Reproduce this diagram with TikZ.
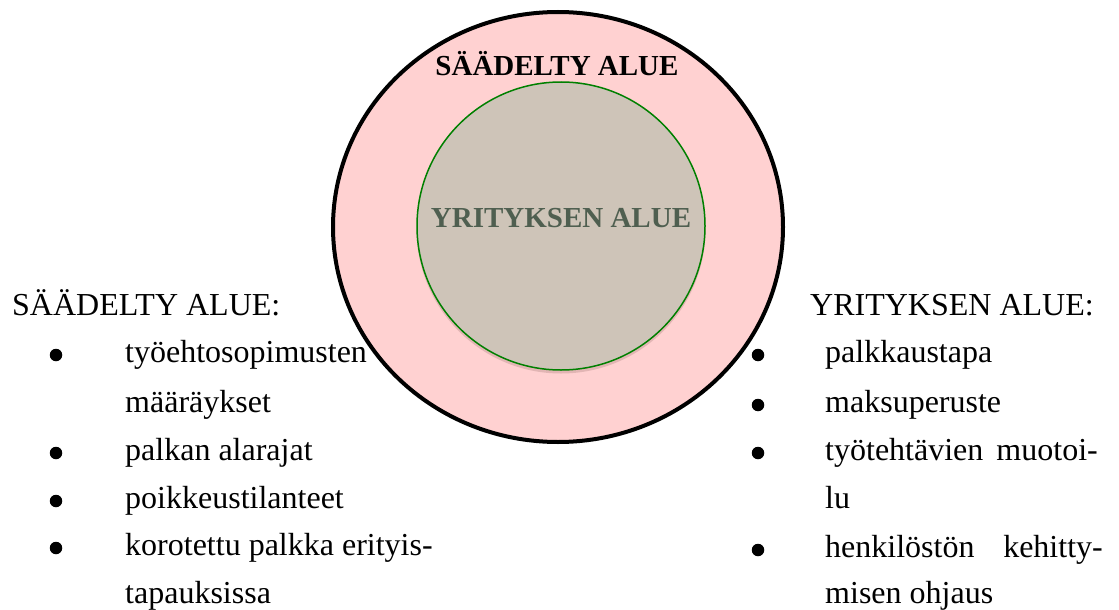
\documentclass[tikz,border=0pt]{standalone}
\usepackage{fontspec}
\setmainfont{Liberation Serif}
\usetikzlibrary{shapes.geometric}
\definecolor{outerpink}{RGB}{255,209,209}
\definecolor{innerbeige}{RGB}{206,196,184}
\definecolor{innerline}{RGB}{0,128,0}
\definecolor{innertext}{RGB}{79,95,80}
\definecolor{innershadow}{RGB}{214,170,168}
\tikzset{
  listtext/.style={anchor=base west, inner sep=0pt, font=\fontsize{32}{40}\selectfont},
  listhead/.style={listtext},
  bulletdot/.style={circle, fill=black, inner sep=0pt, minimum size=12.5pt},
  areatitle/.style={anchor=base, inner sep=0pt, font=\fontsize{29}{34}\selectfont\bfseries},
}
\begin{document}
\begin{tikzpicture}[x=1pt,y=-1pt]
\useasboundingbox (0,0) rectangle (1119,610);

% regulated area (outer ellipse)
\node[ellipse, draw=black, line width=4pt, fill=outerpink,
      minimum width=450pt, minimum height=430pt, inner sep=0pt] (outer) at (558,227) {};
% company area (inner circle) with a soft shadow
\node[circle, fill=innershadow, opacity=0.7, minimum size=289pt, inner sep=0pt] (innershade) at (561,229) {};
\node[circle, draw=innerline, line width=1.5pt, fill=innerbeige,
      minimum size=288pt, inner sep=0pt] (inner) at (561,226) {};

\node[areatitle] (outertitle) at (557,75) {SÄÄDELTY ALUE};
\node[areatitle, text=innertext] (innertitle) at (561,227) {YRITYKSEN ALUE};

% left list
\node[listhead] (lhead) at (12,315) {SÄÄDELTY ALUE:};
\node[listtext] (l1a) at (125,362) {työehtosopimusten};
\node[listtext] (l1b) at (125,412) {määräykset};
\node[listtext] (l2) at (125,460) {palkan alarajat};
\node[listtext] (l3) at (125,508) {poikkeustilanteet};
\node[listtext] (l4a) at (125,555) {korotettu palkka erityis-};
\node[listtext] (l4b) at (125,603) {tapauksissa};
\node[bulletdot] (lb1) at (56,355) {};
\node[bulletdot] (lb2) at (56,453) {};
\node[bulletdot] (lb3) at (56,501) {};
\node[bulletdot] (lb4) at (56,548) {};

% right list
\node[listhead] (rhead) at (810,315) {YRITYKSEN ALUE:};
\node[listtext] (r1) at (825,362) {palkkaustapa};
\node[listtext] (r2) at (825,412) {maksuperuste};
\node[listtext] (r3a) at (825,460) {työtehtävien};
\node[listtext, anchor=base east] (r3b) at (1098,460) {muotoi-};
\node[listtext] (r3c) at (825,508) {lu};
\node[listtext] (r4a) at (825,557) {henkilöstön};
\node[listtext, anchor=base east] (r4b) at (1103,557) {kehitty-};
\node[listtext] (r4c) at (825,603) {misen ohjaus};
\node[bulletdot] (rb1) at (758,355) {};
\node[bulletdot] (rb2) at (758,405) {};
\node[bulletdot] (rb3) at (758,453) {};
\node[bulletdot] (rb4) at (758,550) {};
\end{tikzpicture}
\end{document}
